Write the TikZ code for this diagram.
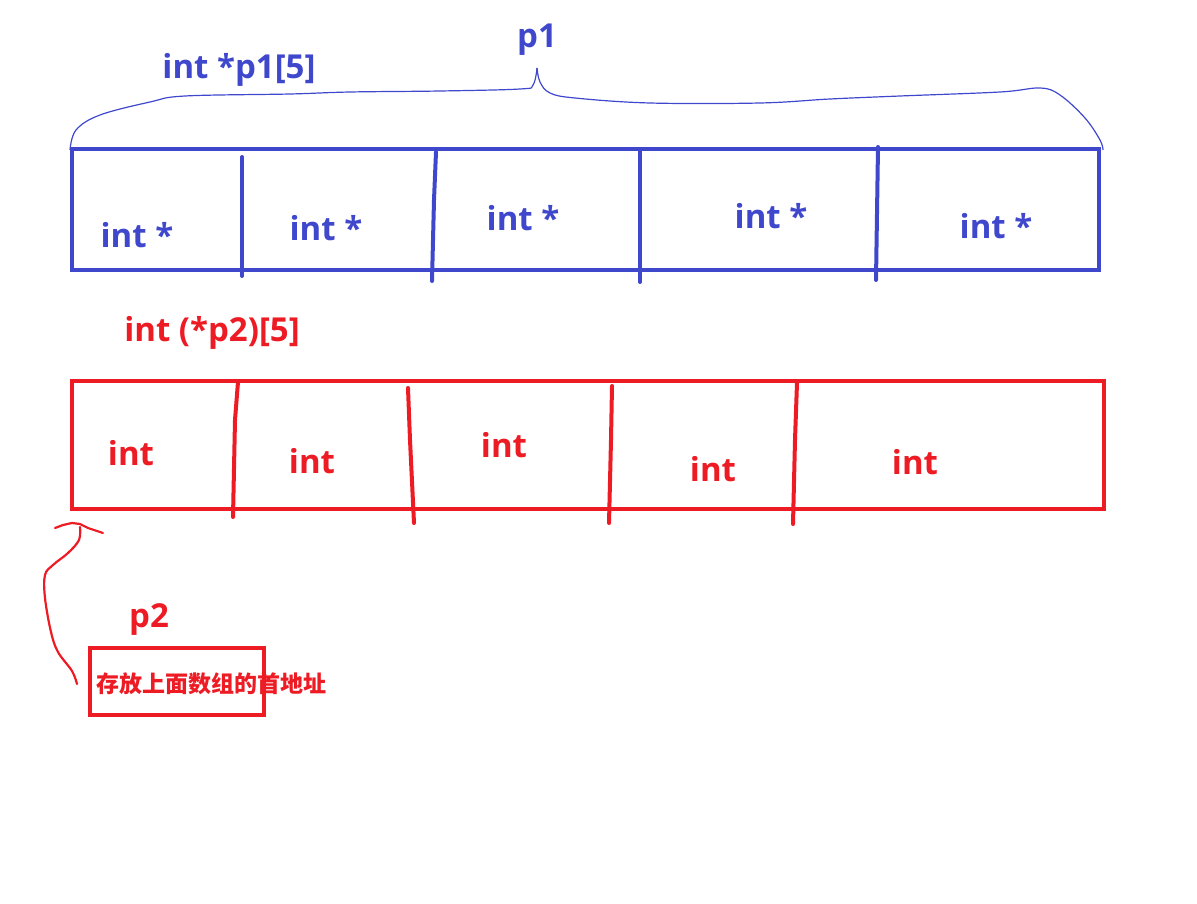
\documentclass[tikz,border=0pt]{standalone}
\usepackage{fontspec}
\setmainfont{Open Sans}
\newfontfamily\cjk{Noto Sans CJK SC}
\usetikzlibrary{calc}
\definecolor{pblue}{RGB}{63,72,204}
\definecolor{pred}{RGB}{237,28,36}
\tikzset{
  bluebox/.style={draw=pblue, line width=4pt},
  redbox/.style={draw=pred, line width=4pt},
  bluediv/.style={draw=pblue, line width=4pt, line cap=round},
  reddiv/.style={draw=pred, line width=4pt, line cap=round},
  bracket/.style={draw=pblue, line width=1.2pt},
  handarrow/.style={draw=pred, line width=2.2pt, line cap=round, line join=round},
  celltxt/.style={font=\fontsize{33}{38}\selectfont\bfseries, inner sep=0pt},
  bluetxt/.style={celltxt, text=pblue},
  redtxt/.style={celltxt, text=pred},
}
\begin{document}
\begin{tikzpicture}[x=1pt, y=-1pt]
      \useasboundingbox (0,0) rectangle (1197,904);

      % ---- p1 : tableau de pointeurs ----
      \node[bluetxt] (p1) at (537,40) {p1};
      \node[bluetxt] (declp1) at (239,70) {int *p1[5]};
      \draw[bracket] plot[smooth, tension=0.6] coordinates {(70,150) (76,130) (100,115) (150,102) (185,96)
            (290,94) (350,92) (440,91) (520,89) (533,85) (537,68)};
      \draw[bracket] plot[smooth, tension=0.6] coordinates {(537,68) (540,82) (550,93) (575,98) (650,103)
            (760,103) (830,99) (900,96) (1000,92) (1040,88) (1060,95) (1085,118) (1100,140) (1103,150)};
      \draw[bluebox] (72,149) rectangle (1099,270);
      \draw[bluediv] (242,157) -- (242,276);
      \draw[bluediv] (436,152) -- (434,200) -- (432,281);
      \draw[bluediv] (640,149) -- (640,282);
      \draw[bluediv] (878,147) -- (876,280);
      \node[bluetxt] (b1) at (137,235) {int *};
      \node[bluetxt] (b2) at (326,228) {int *};
      \node[bluetxt] (b3) at (523,218) {int *};
      \node[bluetxt] (b4) at (771,216) {int *};
      \node[bluetxt] (b5) at (996,226) {int *};

      % ---- p2 : pointeur de tableau ----
      \node[redtxt] (declp2) at (212,333) {int (*p2)[5]};
      \draw[redbox] (72,381) rectangle (1104,509);
      \draw[reddiv] (238,382) -- (235,420) -- (233,517);
      \draw[reddiv] (408,388) -- (410,440) -- (414,523);
      \draw[reddiv] (612,386) -- (611,440) -- (609,523);
      \draw[reddiv] (797,383) -- (795,440) -- (793,524);
      \node[redtxt] (r1) at (131,453) {int};
      \node[redtxt] (r2) at (312,461) {int};
      \node[redtxt] (r3) at (504,445) {int};
      \node[redtxt] (r4) at (713,469) {int};
      \node[redtxt] (r5) at (915,462) {int};

      % ---- p2 et fleche ----
      \node[redtxt] (p2) at (149,620) {p2};
      \draw[redbox] (90,648) rectangle (264,715);
      \node[text=pred, inner sep=0pt, font=\cjk\fontsize{23}{26}\selectfont\bfseries] (addr) at (211,684) {存放上面数组的首地址};
      \coordinate (tail) at (77,684);
      \coordinate (tip) at (72,523);
      \draw[handarrow] plot[smooth, tension=0.6] coordinates {(tail) (72,671) (58,652) (51,632) (45,598)
            (45,575) (53,565) (68,553) (79,540) (80,527)};
      \draw[handarrow] (55,528) -- (63,525) -- (tip) -- (80,524) -- (88,528) -- (103,533);
      \end{tikzpicture}
\end{document}
